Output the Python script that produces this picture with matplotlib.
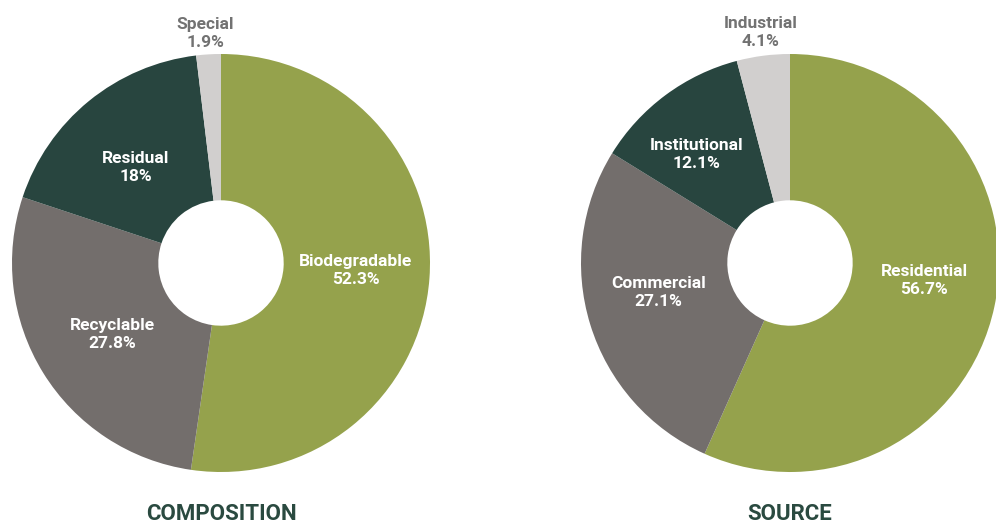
import numpy as np
import matplotlib
matplotlib.use("Agg")
import matplotlib.pyplot as plt

# Waste composition breakdown
composition_labels = ["Biodegradable", "Recyclable", "Residual", "Special"]
composition_values = [52.3, 27.8, 18.0, 1.9]

# Waste source breakdown
source_labels = ["Residential", "Commercial", "Institutional", "Industrial"]
source_values = [56.7, 27.1, 12.1, 4.1]

colors = ["#95a24c", "#736e6c", "#28453f", "#d1cfce"]
title_color = "#2a4a40"
outside_color = "#727272"

W, H = 996, 525
fig = plt.figure(figsize=(W / 100, H / 100), dpi=100)

R_PX = 209
HOLE = 0.30
LABEL_FONT = ["Roboto", "DejaVu Sans"]


def draw_donut(cx, cy, labels, values, title, label_r, label_turn):
    ax = fig.add_axes([(cx - R_PX) / W, (H - cy - R_PX) / H, 2 * R_PX / W, 2 * R_PX / H])
    wedges, _ = ax.pie(values, colors=colors, startangle=90, counterclock=False,
                       radius=1.0, wedgeprops=dict(width=1 - HOLE, linewidth=0))
    ax.set_xlim(-1, 1)
    ax.set_ylim(-1, 1)
    ax.set_aspect("equal")
    ax.axis("off")
    last = len(values) - 1
    for i, (w, lab, v) in enumerate(zip(wedges, labels, values)):
        mid = np.deg2rad((w.theta1 + w.theta2) / 2 + label_turn[i])
        r = label_r[i]
        x, y = r * np.cos(mid), r * np.sin(mid)
        ax.annotate(f"{lab}\n{v:g}%", (x, y), xytext=(0, -2),
                    textcoords="offset points", ha="center", va="center",
                    color=outside_color if i == last else "white",
                    fontsize=12.5, fontweight="bold", family=LABEL_FONT,
                    linespacing=1.25, annotation_clip=False)
    fig.text(cx / W, 1 - 514 / H, title, ha="center", va="center",
             color=title_color, fontsize=16, fontweight="bold",
             family=["Roboto", "DejaVu Sans"])


draw_donut(221, 263, composition_labels, composition_values, "COMPOSITION",
           [0.646, 0.617, 0.622, 1.115], [2.0, 0.6, 1.9, 0.5])
draw_donut(790, 263, source_labels, source_values, "SOURCE",
           [0.645, 0.642, 0.693, 1.124], [5.7, -5.5, 3.5, -0.2])

fig.savefig("out.png", dpi=100, facecolor="white")
